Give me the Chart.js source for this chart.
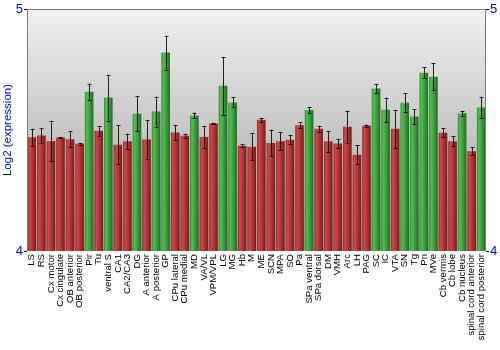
<!DOCTYPE html>
<html>
<head>
<meta charset="utf-8">
<script src="https://cdn.jsdelivr.net/npm/chart.js@4"></script>
<style>
  body { margin: 0; background: #fff; }
  #wrap { width: 500px; height: 350px; }
</style>
</head>
<body>
<div id="wrap"><canvas id="chart" width="500" height="350"></canvas></div>
<script>
const regions = ['LS', 'RS', 'Cx motor', 'Cx cingulate', 'OB anterior', 'OB posterior', 'Pir', 'Tu',
    'ventral S', 'CA1', 'CA2/CA3', 'DG', 'A anterior', 'A posterior', 'GP', 'CPu lateral', 'CPu medial',
    'MD', 'VA/VL', 'VPM/VPL', 'LG', 'MG', 'Hb', 'M', 'ME', 'SCN', 'MPA', 'SO', 'Pa', 'SPa ventral',
    'SPa dorsal', 'DM', 'VMH', 'Arc', 'LH', 'PAG', 'SC', 'IC', 'VTA', 'SN', 'Tg', 'Pn', 'MVe',
    'Cb vermis', 'Cb lobe', 'Cb nucleus', 'spinal cord anterior', 'spinal cord posterior']

const expression = [4.470, 4.477, 4.455, 4.469, 4.462, 4.443, 4.658, 4.497, 4.634, 4.439, 4.453, 4.567,
    4.461, 4.576, 4.820, 4.490, 4.476, 4.560, 4.471, 4.527, 4.683, 4.614, 4.435, 4.431, 4.542, 4.446,
    4.454, 4.460, 4.520, 4.583, 4.505, 4.453, 4.444, 4.513, 4.398, 4.518, 4.672, 4.584, 4.505, 4.613,
    4.556, 4.737, 4.720, 4.489, 4.453, 4.569, 4.412, 4.593]

const errors = [0.035, 0.031, 0.084, 0.002, 0.034, 0.003, 0.034, 0.021, 0.095, 0.080, 0.032, 0.072,
    0.079, 0.062, 0.070, 0.030, 0.008, 0.012, 0.046, 0.002, 0.119, 0.021, 0.007, 0.057, 0.008, 0.055,
    0.037, 0.019, 0.012, 0.012, 0.012, 0.043, 0.019, 0.067, 0.039, 0.004, 0.019, 0.050, 0.079, 0.039,
    0.030, 0.022, 0.055, 0.019, 0.021, 0.010, 0.016, 0.044]

// regions drawn in green
const enriched = ['Pir', 'ventral S', 'DG', 'A posterior', 'GP', 'MD', 'LG', 'MG', 'SPa ventral',
    'SC', 'IC', 'SN', 'Tg', 'Pn', 'MVe', 'Cb nucleus', 'spinal cord posterior']

const yTicks = [4, 5]

const fontFamily = '"Liberation Sans", Arial, sans-serif'
const barFraction = 0.9

const redStops = ['#962828', '#c84a4a', '#b73838', '#932525', '#761a1a']
const greenStops = ['#2f8c2f', '#55bb55', '#3fa63f', '#2b822b', '#216821']

/* shaded bars: lighter on the left, darker toward the right edge */
function barFill(context) {
    const i = context.dataIndex
    const isGreen = enriched.includes(regions[i])
    const stops = isGreen ? greenStops : redStops
    const chart = context.chart
    const xs = chart.scales.x
    if (!xs || !xs.width) return stops[2]
    const cx = xs.getPixelForValue(i)
    const w = xs.width / regions.length * barFraction
    const g = chart.ctx.createLinearGradient(cx - w / 2, 0, cx + w / 2, 0)
    g.addColorStop(0, stops[0])
    g.addColorStop(0.22, stops[1])
    g.addColorStop(0.5, stops[2])
    g.addColorStop(0.82, stops[3])
    g.addColorStop(1, stops[4])
    return g
}

const plotBackground = {
    id: 'plotBackground',
    beforeDraw(chart) {
        const { ctx, chartArea: a } = chart
        const g = ctx.createLinearGradient(0, a.top, 0, a.bottom)
        g.addColorStop(0, '#f1f1f1')
        g.addColorStop(1, '#9c9c9c')
        ctx.save()
        ctx.fillStyle = g
        ctx.fillRect(a.left, a.top, a.right - a.left, a.bottom - a.top)
        ctx.restore()
    },
    afterDatasetsDraw(chart) {
        const { ctx, chartArea: a } = chart
        ctx.save()
        ctx.strokeStyle = '#7a7a7a'
        ctx.lineWidth = 1
        ctx.beginPath()
        ctx.moveTo(a.left + 0.5, a.bottom)
        ctx.lineTo(a.left + 0.5, a.top + 0.5)
        ctx.lineTo(a.right - 0.5, a.top + 0.5)
        ctx.lineTo(a.right - 0.5, a.bottom)
        ctx.stroke()
        ctx.restore()
    }
}

const errorBars = {
    id: 'errorBars',
    afterDatasetsDraw(chart) {
        const { ctx, scales } = chart
        ctx.save()
        ctx.strokeStyle = 'rgba(0, 0, 0, 0.85)'
        ctx.lineWidth = 1
        expression.forEach((v, i) => {
            const x = Math.round(scales.x.getPixelForValue(i)) + 0.5
            const top = scales.y.getPixelForValue(v + errors[i])
            const bottom = scales.y.getPixelForValue(v - errors[i])
            ctx.beginPath()
            ctx.moveTo(x, top)
            ctx.lineTo(x, bottom)
            ctx.moveTo(x - 2, Math.round(top) + 0.5)
            ctx.lineTo(x + 2, Math.round(top) + 0.5)
            ctx.moveTo(x - 2, Math.round(bottom) + 0.5)
            ctx.lineTo(x + 2, Math.round(bottom) + 0.5)
            ctx.stroke()
        })
        ctx.restore()
    }
}

const valueAxis = (position, width) => ({
    position: position,
    min: yTicks[0],
    max: yTicks[yTicks.length - 1],
    afterBuildTicks: (scale) => {
        scale.ticks = yTicks.map(v => ({ value: v }))
    },
    afterFit: (scale) => {
        scale.width = width
    },
    grid: {
        drawOnChartArea: false,
        tickLength: 3,
        tickColor: '#000',
    },
    border: { display: false },
    ticks: {
        color: '#0000ff',
        padding: 1,
        font: { family: fontFamily, size: 13 }
    }
})

const leftAxis = valueAxis('left', 27)
leftAxis.title = {
    display: true,
    text: 'Log2 (expression)',
    color: '#0000ff',
    padding: { top: 1, bottom: 0 },
    font: { family: fontFamily, size: 11.5 }
}

new Chart(document.getElementById('chart'), {
    type: 'bar',
    data: {
        labels: regions,
        datasets: [{
            data: expression,
            backgroundColor: barFill,
            categoryPercentage: 1,
            barPercentage: barFraction,
            borderWidth: 0,
            yAxisID: 'y'
        }]
    },
    options: {
        responsive: false,
        animation: false,
        layout: { padding: { top: 9, bottom: 0, left: 0, right: 0 } },
        plugins: {
            legend: { display: false },
            tooltip: { enabled: false }
        },
        scales: {
            x: {
                afterFit: (scale) => {
                    scale.height = 99
                },
                grid: { display: false, drawTicks: false },
                border: { display: false },
                ticks: {
                    autoSkip: false,
                    minRotation: 90,
                    maxRotation: 90,
                    padding: 3,
                    color: '#000',
                    font: { family: fontFamily, size: 9.6 }
                }
            },
            y: leftAxis,
            y2: valueAxis('right', 14)
        }
    },
    plugins: [plotBackground, errorBars]
})
</script>
</body>
</html>
